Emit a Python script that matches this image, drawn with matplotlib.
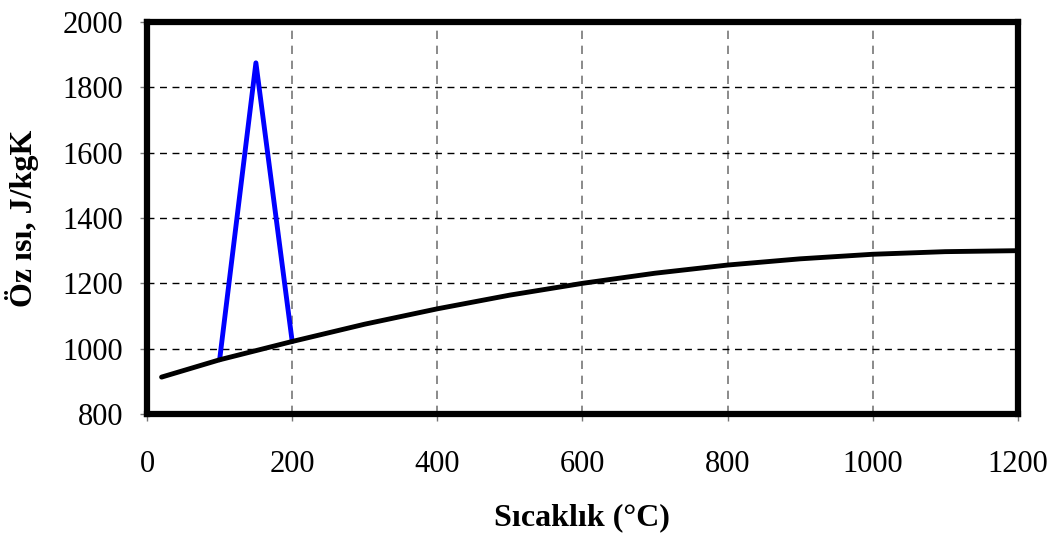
import matplotlib
matplotlib.use("Agg")
import matplotlib.pyplot as plt

temp_black = [20, 100, 200, 300, 400, 500, 600, 700, 800, 900, 1000, 1100, 1200]
cp_black = [913, 966, 1022, 1075, 1122, 1164, 1200, 1231, 1256, 1275, 1289, 1297, 1300]
temp_blue = [100, 150, 200]
cp_blue = [966, 1875, 1022]
xticks = [0, 200, 400, 600, 800, 1000, 1200]
yticks = [800, 1000, 1200, 1400, 1600, 1800, 2000]

plt.rcParams['font.family'] = ['Liberation Serif', 'DejaVu Serif']
fig = plt.figure(figsize=(10.58, 5.34), dpi=100)
ax = fig.add_axes([0.139, 0.2247, 0.823, 0.7341])

for x in xticks[1:-1]:
    ax.axvline(x, color='#777777', lw=1.2, ls=(0, (5, 4)), zorder=1)
for y in yticks[1:-1]:
    ax.axhline(y, color='black', lw=1.0, ls=(0, (5, 4)), zorder=1)

ax.plot(temp_blue, cp_blue, color='#0000ff', lw=3.5, solid_capstyle='round', solid_joinstyle='round', zorder=3)
ax.plot(temp_black, cp_black, color='black', lw=3.5, solid_capstyle='round', zorder=4)

ax.set_xlim(0, 1200)
ax.set_ylim(800, 2000)
ax.set_xticks(xticks)
ax.set_yticks(yticks)
ax.tick_params(direction='out', length=5, width=1, color='#777777', labelsize=22)
ax.tick_params(axis='x', pad=21)
ax.tick_params(axis='y', pad=12)
for s in ax.spines.values():
    s.set_linewidth(4.5)
    s.set_color('black')

ax.set_xlabel('Sıcaklık (°C)', fontsize=23, fontweight='bold', labelpad=17)
ax.set_ylabel('Öz ısı, J/kgK', fontsize=23, fontweight='bold', labelpad=17)

fig.savefig('out.png', dpi=100)
